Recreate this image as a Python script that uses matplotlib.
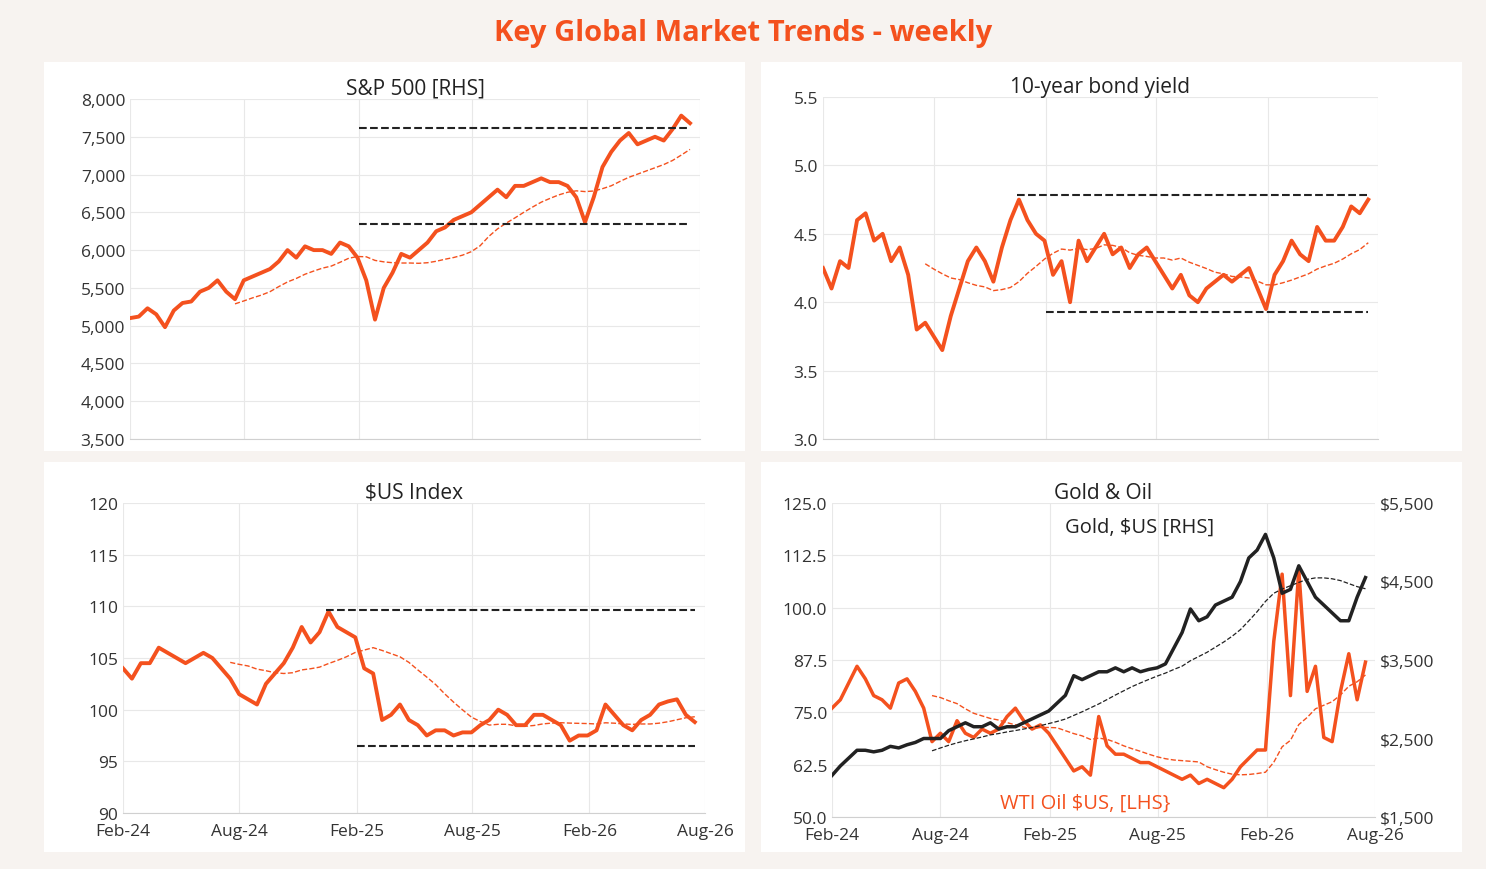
import matplotlib
matplotlib.use("Agg")
import matplotlib.pyplot as plt
from matplotlib.patches import Rectangle
from matplotlib.ticker import FuncFormatter
import pandas as pd

plt.rcParams['font.family'] = ['Open Sans', 'DejaVu Sans']

ORANGE = '#f4511e'
dates = pd.date_range('2024-02-01', periods=65, freq='14D')

sp500 = [5100, 5120, 5230, 5150, 4980, 5200, 5300, 5320, 5450, 5500, 5600, 5450, 5350,
         5600, 5650, 5700, 5750, 5850, 6000, 5900, 6050, 6000, 6000, 5950, 6100, 6050,
         5900, 5600, 5080, 5500, 5700, 5950, 5900, 6000, 6100, 6250, 6300, 6400, 6450,
         6500, 6600, 6700, 6800, 6700, 6850, 6850, 6900, 6950, 6900, 6900, 6850, 6700,
         6370, 6700, 7100, 7300, 7450, 7550, 7400, 7450, 7500, 7450, 7600, 7780, 7680]
bond = [4.25, 4.1, 4.3, 4.25, 4.6, 4.65, 4.45, 4.5, 4.3, 4.4, 4.2, 3.8, 3.85,
        3.75, 3.65, 3.9, 4.1, 4.3, 4.4, 4.3, 4.15, 4.4, 4.6, 4.75, 4.6, 4.5,
        4.45, 4.2, 4.3, 4.0, 4.45, 4.3, 4.4, 4.5, 4.35, 4.4, 4.25, 4.35, 4.4,
        4.3, 4.2, 4.1, 4.2, 4.05, 4.0, 4.1, 4.15, 4.2, 4.15, 4.2, 4.25, 4.1,
        3.95, 4.2, 4.3, 4.45, 4.35, 4.3, 4.55, 4.45, 4.45, 4.55, 4.7, 4.65, 4.75]
usd = [104, 103, 104.5, 104.5, 106, 105.5, 105, 104.5, 105, 105.5, 105, 104, 103,
       101.5, 101, 100.5, 102.5, 103.5, 104.5, 106, 108, 106.5, 107.5, 109.5, 108, 107.5,
       107, 104, 103.5, 99, 99.5, 100.5, 99, 98.5, 97.5, 98, 98, 97.5, 97.8,
       97.8, 98.5, 99, 100, 99.5, 98.5, 98.5, 99.5, 99.5, 99, 98.5, 97, 97.5,
       97.5, 98, 100.5, 99.5, 98.5, 98, 99, 99.5, 100.5, 100.8, 101, 99.5, 98.8]
gold = [2030, 2150, 2250, 2350, 2350, 2330, 2350, 2400, 2380, 2420, 2450, 2500, 2500,
        2500, 2600, 2650, 2700, 2650, 2650, 2700, 2620, 2650, 2650, 2700, 2750, 2800,
        2850, 2950, 3050, 3300, 3250, 3300, 3350, 3350, 3400, 3350, 3400, 3350, 3380,
        3400, 3450, 3650, 3850, 4150, 4000, 4050, 4200, 4250, 4300, 4500, 4800, 4900,
        5100, 4800, 4350, 4400, 4700, 4500, 4300, 4200, 4100, 4000, 4000, 4300, 4550]
oil = [76, 78, 82, 86, 83, 79, 78, 76, 82, 83, 80, 76, 68,
       70, 68, 73, 70, 69, 71, 70, 71, 74, 76, 73, 71, 72,
       70, 67, 64, 61, 62, 60, 74, 67, 65, 65, 64, 63, 63,
       62, 61, 60, 59, 60, 58, 59, 58, 57, 59, 62, 64, 66,
       66, 92, 108, 79, 109, 80, 86, 69, 68, 80, 89, 78, 87]

ticks = pd.to_datetime(['2024-02-01', '2024-08-01', '2025-02-01', '2025-08-01',
                        '2026-02-01', '2026-08-01'])
tick_labels = ['Feb-24', 'Aug-24', 'Feb-25', 'Aug-25', 'Feb-26', 'Aug-26']

W, H = 1486, 870
fig = plt.figure(figsize=(W / 100, H / 100), dpi=100, facecolor='#f7f3f0')
for (x0, y0, x1, y1) in [(44, 63, 745, 452), (761, 63, 1462, 452),
                         (44, 463, 745, 853), (761, 463, 1462, 853)]:
    fig.patches.append(Rectangle((x0 / W, 1 - y1 / H), (x1 - x0) / W, (y1 - y0) / H,
                                 transform=fig.transFigure, facecolor='white',
                                 edgecolor='none', zorder=-10))
fig.text(0.5, 1 - 34 / H, 'Key Global Market Trends - weekly', ha='center', va='center',
         color=ORANGE, fontsize=21, fontweight='bold')


def make_ax(x0, y0, x1, y1, title, ylim, yticks, fmt):
    ax = fig.add_axes([x0 / W, 1 - y1 / H, (x1 - x0) / W, (y1 - y0) / H])
    ax.set_facecolor('white')
    ax.set_xlim(dates[0], ticks[-1])
    ax.set_ylim(*ylim)
    ax.set_yticks(yticks)
    ax.yaxis.set_major_formatter(FuncFormatter(fmt))
    ax.set_xticks(ticks)
    ax.set_xticklabels(tick_labels)
    ax.grid(True, color='#e8e8e8', lw=0.8)
    for s in ['top', 'right', 'left']:
        ax.spines[s].set_visible(False)
    ax.spines['bottom'].set_color('#d0d0d0')
    ax.tick_params(length=0, labelsize=12.5, colors='#333333')
    ax.tick_params(axis='x', pad=7)
    ax.set_title(title, fontsize=15, color='#222222', pad=-2)
    return ax


def ma(vals):
    return pd.Series(vals, index=dates).rolling(13).mean()


# S&P 500
ax = make_ax(130, 100, 700, 440, 'S&P 500 [RHS]', (3500, 8000), range(3500, 8001, 500),
             lambda v, p: f'{v:,.0f}')
ax.plot(dates, sp500, color=ORANGE, lw=2.8)
ax.plot(dates, ma(sp500), color=ORANGE, lw=1, ls='--')
ax.hlines([7620, 6350], pd.Timestamp('2025-02-01'), dates[-1], colors='#222', ls='--', lw=1.5)
ax.set_xticklabels([])

# 10-year bond
ax = make_ax(823, 98, 1378, 440, '10-year bond yield', (3.0, 5.5),
             [3.0, 3.5, 4.0, 4.5, 5.0, 5.5], lambda v, p: f'{v:.1f}')
ax.plot(dates, bond, color=ORANGE, lw=2.8)
ax.plot(dates, ma(bond), color=ORANGE, lw=1, ls='--')
ax.hlines(4.78, pd.Timestamp('2024-12-15'), dates[-1], colors='#222', ls='--', lw=1.5)
ax.hlines(3.93, pd.Timestamp('2025-02-01'), dates[-1], colors='#222', ls='--', lw=1.5)
ax.set_xticklabels([])

# USD index
ax = make_ax(123, 504, 705, 814, '$US Index', (90, 120), range(90, 121, 5),
             lambda v, p: f'{v:.0f}')
ax.plot(dates, usd, color=ORANGE, lw=2.8)
ax.plot(dates, ma(usd), color=ORANGE, lw=1, ls='--')
ax.hlines(109.6, pd.Timestamp('2024-12-15'), dates[-1], colors='#222', ls='--', lw=1.5)
ax.hlines(96.5, pd.Timestamp('2025-02-01'), dates[-1], colors='#222', ls='--', lw=1.5)

# Gold & Oil
ax = make_ax(832, 504, 1375, 818, 'Gold & Oil', (50, 125),
             [50, 62.5, 75, 87.5, 100, 112.5, 125], lambda v, p: f'{v:.1f}')
ax.plot(dates, oil, color=ORANGE, lw=2.5, zorder=3)
ax.plot(dates, ma(oil), color=ORANGE, lw=1, ls='--', zorder=3)
ax2 = ax.twinx()
ax2.set_ylim(1500, 5500)
ax2.set_yticks(range(1500, 5501, 1000))
ax2.yaxis.set_major_formatter(FuncFormatter(lambda v, p: f'${v:,.0f}'))
ax2.tick_params(length=0, labelsize=12.5, colors='#333333')
for s in ax2.spines.values():
    s.set_visible(False)
ax2.plot(dates, gold, color='#222222', lw=2.5)
ax2.plot(dates, ma(gold), color='#222222', lw=0.9, ls='--')
ax.text(0.43, 0.91, 'Gold, $US [RHS]', transform=ax.transAxes, fontsize=14.5, color='#222')
ax.text(0.31, 0.03, 'WTI Oil $US, [LHS}', transform=ax.transAxes, fontsize=14.5, color=ORANGE)

fig.savefig('out.png', dpi=100, facecolor=fig.get_facecolor())
